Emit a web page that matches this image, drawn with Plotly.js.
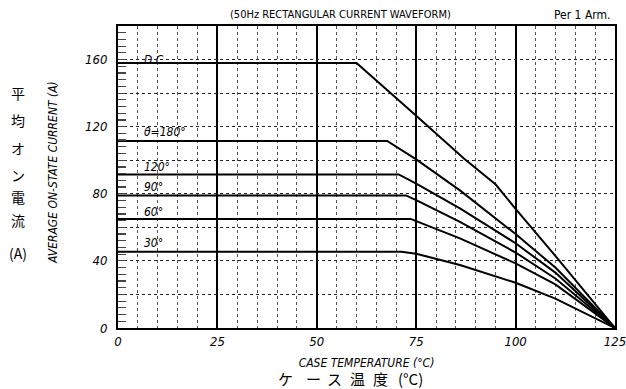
<!DOCTYPE html>
<html>
<head>
<meta charset="utf-8">
<script src="https://cdn.plot.ly/plotly-3.0.1.min.js"></script>
<style>html,body{margin:0;padding:0;background:#fff;}#chart{width:626px;height:389px;}</style>
</head>
<body>
<div id="chart"></div>
<script>
// Case temperature (°C) breakpoints and average on-state current (A) for each waveform
const tempDC   = [0, 60, 75, 87, 95, 100, 110, 125];
const currDC   = [158, 158, 126.5, 101, 85.5, 71, 43, 0];
const temp180  = [0, 67.7, 75, 86, 100, 110, 125];
const curr180  = [111.5, 111.5, 100.5, 82, 56, 36, 0];
const temp120  = [0, 70.6, 75, 86, 100, 110, 125];
const curr120  = [91.5, 91.5, 86, 71.3, 50.5, 33, 0];
const temp90   = [0, 72.4, 75, 86, 100, 110, 125];
const curr90   = [79, 79, 76.2, 63.3, 45, 29.5, 0];
const temp60   = [0, 73.6, 75, 86, 100, 110, 125];
const curr60   = [65, 65, 63.7, 53.4, 38.5, 26, 0];
const temp30   = [0, 71.3, 75, 86, 100, 110, 125];
const curr30   = [45.5, 45.5, 44.3, 37.5, 27, 17.5, 0];

const curveLabels = ['D.C.', 'θ=180°', '120°', '90°', '60°', '30°'];
const labelY      = [160, 117, 96, 84, 69, 50.5];

const xTickVals = [0, 25, 50, 75, 100, 125];
const xTickText = ['0', '25', '50', '75', '100', '125'];
const yTickVals = [0, 20, 40, 60, 80, 100, 120, 140, 160, 180];
const yTickText = ['0', '', '40', '', '80', '', '120', '', '160', ''];

const chartTitle = '(50Hz RECTANGULAR CURRENT WAVEFORM)';
const cornerNote = 'Per 1 Arm.';
const xTitle = 'CASE TEMPERATURE (°C)';
const xTitleJa = ['ケ', 'ー', 'ス', '温', '度', '(°C)'];
const yTitle = 'AVERAGE ON-STATE CURRENT (A)';
const yTitleJa = ['平', '均', 'オ', 'ン', '電', '流', '(A)'];

const narrow = '"Liberation Sans Narrow", "DejaVu Sans Condensed", "Liberation Sans", Arial, sans-serif';
const ja = '"Noto Sans CJK JP", "Noto Sans", sans-serif';

const series = [
  [tempDC, currDC], [temp180, curr180], [temp120, curr120],
  [temp90, curr90], [temp60, curr60], [temp30, curr30]
];
const traces = series.map((s, i) => ({
  x: s[0], y: s[1], type: 'scatter', mode: 'lines',
  line: {color: '#000', width: 2}, name: curveLabels[i], hoverinfo: 'skip'
}));

const W = 626 - 118 - 11, H = 389 - 26 - 61;
const px2x = (px) => (px - 118) / W;
const py2y = (py) => (389 - 61 - py) / H;

const annotations = [];
curveLabels.forEach((t, i) => {
  annotations.push({x: 6, y: labelY[i], xref: 'x', yref: 'y', text: t, showarrow: false,
    xanchor: 'left', yanchor: 'middle',
    font: {family: narrow, size: 12, style: 'italic', color: '#000'}});
});
annotations.push({x: px2x(340), y: py2y(15), xref: 'paper', yref: 'paper', text: chartTitle, showarrow: false,
  xanchor: 'center', yanchor: 'middle', font: {family: narrow, size: 11, color: '#000'}});
annotations.push({x: px2x(612), y: py2y(15), xref: 'paper', yref: 'paper', text: cornerNote, showarrow: false,
  xanchor: 'right', yanchor: 'middle', font: {family: narrow, size: 12, color: '#000'}});
const jaX = [285, 313, 334, 357, 380, 410];
xTitleJa.forEach((c, i) => {
  annotations.push({x: px2x(jaX[i]), y: py2y(378), xref: 'paper', yref: 'paper', text: c, showarrow: false,
    xanchor: 'center', yanchor: 'middle', font: {family: ja, size: 15, color: '#000'}});
});
annotations.push({x: px2x(53), y: py2y(173), xref: 'paper', yref: 'paper', text: yTitle, showarrow: false,
  textangle: -90, xanchor: 'center', yanchor: 'middle', font: {family: narrow, size: 12, style: 'italic', color: '#000'}});
const jaY = [93, 120, 148, 175, 197, 220, 253];
yTitleJa.forEach((c, i) => {
  annotations.push({x: px2x(18), y: py2y(jaY[i]), xref: 'paper', yref: 'paper', text: c, showarrow: false,
    xanchor: 'center', yanchor: 'middle', font: {family: ja, size: 14, color: '#000'}});
});

const layout = {
  width: 626, height: 389,
  margin: {l: 118, r: 11, t: 26, b: 61, pad: 0},
  paper_bgcolor: '#fff', plot_bgcolor: '#fff',
  showlegend: false,
  xaxis: {
    range: [0, 125], autorange: false,
    tickmode: 'array', tickvals: xTickVals, ticktext: xTickText,
    ticks: '', showline: true, mirror: true, linecolor: '#000', linewidth: 2,
    showgrid: true, gridcolor: '#000', gridwidth: 2, zeroline: false,
    ticklabeloverflow: 'allow',
    tickfont: {family: narrow, size: 13, style: 'italic', color: '#000'},
    minor: {dtick: 5, tick0: 0, showgrid: true, gridcolor: '#555', gridwidth: 1, griddash: 'dot', ticks: ''},
    title: {text: xTitle, standoff: 11, font: {family: narrow, size: 12, style: 'italic', color: '#000'}}
  },
  yaxis: {
    range: [0, 180], autorange: false,
    tickmode: 'array', tickvals: yTickVals, ticktext: yTickText,
    ticks: 'inside', ticklen: 8, tickcolor: '#444', tickwidth: 1.2,
    showline: true, mirror: true, linecolor: '#000', linewidth: 2,
    showgrid: true, gridcolor: '#222', gridwidth: 1, griddash: 'dot', zeroline: false,
    tickfont: {family: narrow, size: 13, style: 'italic', color: '#000'},
    minor: {dtick: 4, tick0: 0, ticks: 'inside', ticklen: 8, tickcolor: '#444', tickwidth: 1.2, showgrid: false},
    ticklabelstandoff: 6
  },
  annotations: annotations
};

Plotly.newPlot('chart', traces, layout, {displayModeBar: false, staticPlot: true});
</script>
</body>
</html>
